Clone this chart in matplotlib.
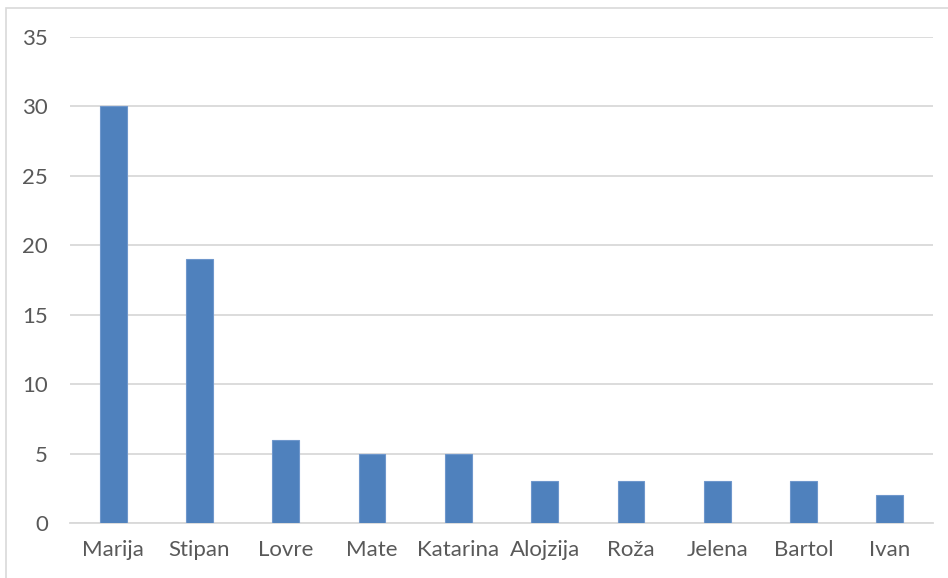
import matplotlib.pyplot as plt
from matplotlib.patches import Rectangle

names = ["Marija", "Stipan", "Lovre", "Mate", "Katarina", "Alojzija",
         "Roža", "Jelena", "Bartol", "Ivan"]
counts = [30, 19, 6, 5, 5, 3, 3, 3, 3, 2]
yticks = [0, 5, 10, 15, 20, 25, 30, 35]

W, H = 948, 578
fig = plt.figure(figsize=(W / 100, H / 100), dpi=100)
plt.rcParams["font.family"] = ["Lato", "DejaVu Sans"]

# chart area border (cropped on right and bottom)
fig.patches.append(Rectangle((6 / W, -0.1), 1.1, (H - 8) / H + 0.1,
                             transform=fig.transFigure, fill=False,
                             edgecolor="#D9D9D9", linewidth=1.2))

ax = fig.add_axes([70 / W, (H - 523) / H, (933 - 70) / W, (523 - 37) / H])
x = range(len(names))
ax.bar(x, counts, width=0.31, color="#4F81BD", edgecolor="#6F97CC",
       linewidth=0.8, zorder=3)

ax.set_xlim(-0.5, len(names) - 0.5)
ax.set_ylim(0, 35)
ax.set_yticks(yticks)
ax.set_xticks(list(x))
ax.set_xticklabels(names)
ax.grid(axis="y", color="#D9D9D9", linewidth=1.3, zorder=0)
for s in ["top", "right", "left"]:
    ax.spines[s].set_visible(False)
ax.spines["bottom"].set_color("#D9D9D9")
ax.spines["bottom"].set_linewidth(1.3)
ax.tick_params(axis="both", length=0, labelsize=16, colors="#595959")
ax.tick_params(axis="y", pad=16)
ax.tick_params(axis="x", pad=12)

fig.savefig("out.png", dpi=100)
